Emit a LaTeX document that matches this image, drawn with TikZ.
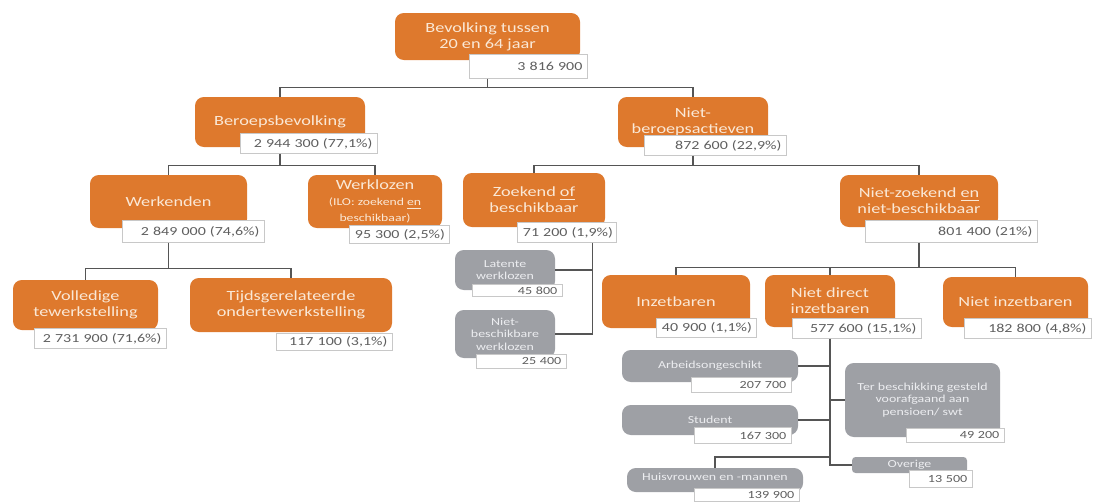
\documentclass[tikz,border=0pt]{standalone}
\usepackage{fontspec}
\setmainfont{Carlito}[FakeStretch=1.3]
\definecolor{oranjevul}{RGB}{222,121,45}
\definecolor{oranjetekst}{RGB}{250,232,214}
\definecolor{grijsvul}{RGB}{158,160,165}
\definecolor{grijstekst}{RGB}{236,237,240}
\definecolor{randgrijs}{RGB}{200,200,200}
\definecolor{cijfer}{RGB}{95,95,95}
\definecolor{lijngrijs}{RGB}{85,85,85}
\newcommand\klein{\fontsize{6}{6.8}\selectfont}
\begin{document}
\begin{tikzpicture}[x=0.02cm,y=-0.02cm,
    blok/.style 2 args={rounded corners=5pt,minimum width=#1*0.02cm,minimum height=#2*0.02cm,inner sep=1pt,align=center},
    oranje/.style 2 args={blok={#1}{#2},fill=oranjevul,text=oranjetekst,font=\fontsize{8}{9}\selectfont},
    grijs/.style 2 args={blok={#1}{#2},fill=grijsvul,text=grijstekst,font=\fontsize{6.1}{7.2}\selectfont},
    waarde/.style 2 args={draw=randgrijs,fill=white,anchor=north east,text width=#1*0.02cm-6pt,minimum height=#2*0.02cm,inner xsep=3pt,inner ysep=0pt,align=right,text=cijfer,font=\fontsize{7}{8}\selectfont},
    kleinwaarde/.style 2 args={waarde={#1}{#2},font=\fontsize{6.2}{7}\selectfont},
    lijn/.style={draw=lijngrijs,line width=0.7pt}]
\useasboundingbox (0,0) rectangle (1094,501);
% bovenste niveau
\node[oranje={185}{47}] (bev) at (487.5,36.5) {Bevolking tussen\\20 en 64 jaar};
\node[waarde={118}{24}] (bevw) at (588,54) {3~816~900};
\node[oranje={170}{50}] (beroeps) at (280,122) {Beroepsbevolking};
\node[waarde={137}{20}] (beroepsw) at (378,133) {2~944~300~(77,1\%)};
\node[oranje={150}{50}] (nietber) at (693,122) {Niet-\\beroepsactieven};
\node[waarde={142}{20}] (nietberw) at (787,135) {872~600~(22,9\%)};
% tweede niveau
\node[oranje={157}{53}] (werkenden) at (168.5,201.5) {Werkenden};
\node[waarde={142}{22}] (werkendenw) at (265,220) {2~849~000~(74,6\%)};
\node[oranje={134}{53}] (werklozen) at (375,201.5) {Werklozen\\\klein(ILO: zoekend \underline{en}\\\klein beschikbaar)};
\node[waarde={100}{18}] (werklozenw) at (450,225) {95~300~(2,5\%)};
\node[oranje={142}{54}] (zoekend) at (534,200) {Zoekend \underline{of}\\beschikbaar};
\node[waarde={99}{20}] (zoekendw) at (617,222) {71~200~(1,9\%)};
\node[oranje={158}{52}] (nietzoek) at (919,201) {Niet-zoekend \underline{en}\\niet-beschikbaar};
\node[waarde={172}{22}] (nietzoekw) at (1038,220) {801~400~(21\%)};
% derde niveau
\node[oranje={145}{50}] (volledig) at (85.5,305) {Volledige\\tewerkstelling};
\node[waarde={132}{20}] (volledigw) at (167,328) {2~731~900~(71,6\%)};
\node[oranje={202}{54}] (tijds) at (291,305) {Tijdsgerelateerde\\ondertewerkstelling};
\node[waarde={116}{17}] (tijdsw) at (393,333) {117~100~(3,1\%)};
\node[grijs={100}{40}] (latente) at (505,270) {Latente\\werklozen};
\node[kleinwaarde={90}{12}] (latentew) at (563,284) {45~800};
\node[grijs={100}{48}] (nietbesch) at (505,334) {Niet-\\beschikbare\\werklozen};
\node[kleinwaarde={90}{14}] (nietbeschw) at (567,354) {25~400};
\node[oranje={148}{53}] (inzet) at (676,301.5) {Inzetbaren};
\node[waarde={100}{19}] (inzetw) at (757,318) {40~900~(1,1\%)};
\node[oranje={130}{52}] (nietdirect) at (830,301) {Niet direct\\inzetbaren};
\node[waarde={129}{20}] (nietdirectw) at (922,318) {577~600~(15,1\%)};
\node[oranje={145}{50}] (nietinzet) at (1015.5,302) {Niet inzetbaren};
\node[waarde={127}{20}] (nietinzetw) at (1092,318) {182~800~(4,8\%)};
% vierde niveau
\node[grijs={176}{32}] (arbeids) at (710,366) {Arbeidsongeschikt};
\node[kleinwaarde={100}{15}] (arbeidsw) at (792,377) {207~700};
\node[grijs={176}{30}] (student) at (710,420) {Student};
\node[kleinwaarde={97}{16}] (studentw) at (792,427) {167~300};
\node[grijs={176}{24},text depth=4pt] (huisvr) at (715,480) {Huisvrouwen en -mannen};
\node[kleinwaarde={105}{13}] (huisvrw) at (800,488) {139~900};
\node[grijs={155}{74}] (terbeschik) at (922.5,400) {Ter beschikking gesteld\\voorafgaand aan\\pensioen/ swt};
\node[kleinwaarde={98}{14}] (terbeschikw) at (1005,428) {49~200};
\node[grijs={115}{16},rounded corners=2pt] (overige) at (909.5,465) {Overige};
\node[kleinwaarde={63}{17}] (overigew) at (973,470) {13~500};
% verbindingen
\draw[lijn] (bev |- bevw.south) -- ++(0,9) coordinate (k1);
\draw[lijn] (beroeps.north) |- (k1) -| (nietber.north);
\draw[lijn] (beroeps |- beroepsw.south) -- ++(0,12) coordinate (k2);
\draw[lijn] (werkenden.north) |- (k2) -| (werklozen.north);
\draw[lijn] (nietber |- nietberw.south) -- ++(0,10) coordinate (k3);
\draw[lijn] (zoekend.north) |- (k3) -| (nietzoek.north);
\draw[lijn] (werkenden |- werkendenw.south) -- ++(0,26) coordinate (k4);
\draw[lijn] (volledig.north) |- (k4) -| (tijds.north);
\coordinate (k5) at ([xshift=0.5cm]zoekendw.south);
\draw[lijn] (k5) |- (nietbesch.east);
\draw[lijn] (latente.east) -- (latente.east -| k5);
\draw[lijn] (nietzoek |- nietzoekw.south) -- ++(0,25) coordinate (k6);
\draw[lijn] (inzet.north) |- (k6) -| (nietinzet.north);
\draw[lijn] (nietdirect.north) -- (nietdirect.north |- k6);
\draw[lijn] (nietdirect |- nietdirectw.south) |- (overige.west);
\draw[lijn] (arbeids.east) -- (arbeids.east -| nietdirect);
\draw[lijn] (student.east) -- (student.east -| nietdirect);
\draw[lijn] (terbeschik.west) -- (terbeschik.west -| nietdirect);
\coordinate (k7) at (830,457);
\draw[lijn] (huisvr.north) |- (k7);
\end{tikzpicture}
\end{document}
